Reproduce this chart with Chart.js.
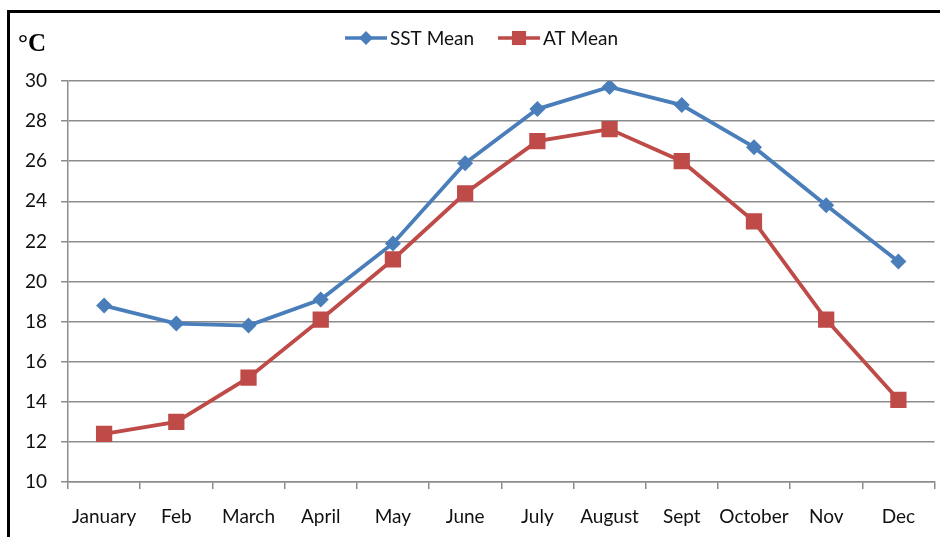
<!DOCTYPE html>
<html>
<head>
<meta charset="utf-8">
<script src="https://cdn.jsdelivr.net/npm/chart.js@4"></script>
<style>
  html, body { margin: 0; padding: 0; background: #fff; }
  #wrap { position: relative; width: 940px; height: 537px; overflow: hidden; }
  #frame { position: absolute; left: 7px; top: 10px; right: 0; bottom: 0;
           border-left: 3px solid #000; border-top: 3px solid #000; pointer-events: none; }
</style>
</head>
<body>
<div id="wrap">
  <!-- etwas breiter als das Fenster, damit der Plotbereich bis x=934 reicht -->
  <canvas id="chart" width="946" height="537"></canvas>
  <div id="frame"></div>
</div>
<script>
// Monatswerte
const months = ['January', 'Feb', 'March', 'April', 'May', 'June', 'July', 'August', 'Sept', 'October', 'Nov', 'Dec'];
const sstMean = [18.8, 17.9, 17.8, 19.1, 21.9, 25.9, 28.6, 29.7, 28.8, 26.7, 23.8, 21.0];
const atMean = [12.4, 13.0, 15.2, 18.1, 21.1, 24.4, 27.0, 27.6, 26.0, 23.0, 18.1, 14.1];
const yTicks = [10, 12, 14, 16, 18, 20, 22, 24, 26, 28, 30];

const BLUE = '#4a7ebb';
const RED = '#be4b48';
const GRID = '#8c8c8c';
const FONT = 'Lato, "Open Sans", sans-serif';

// eigene Legende und Einheit oben links
const extras = {
  id: 'extras',
  afterDraw(chart) {
    const ctx = chart.ctx;
    ctx.save();
    ctx.font = 'bold 25px "Liberation Serif", serif';
    ctx.fillStyle = '#000';
    ctx.textBaseline = 'middle';
    ctx.fillText('°C', 18, 45);

    const items = [
      { label: 'SST Mean', color: BLUE, style: 'rectRot', r: 7, x: 345 },
      { label: 'AT Mean', color: RED, style: 'rect', r: 10, x: 498 }
    ];
    ctx.font = '19px ' + FONT;
    items.forEach(it => {
      ctx.strokeStyle = it.color;
      ctx.lineWidth = 3.5;
      ctx.beginPath();
      ctx.moveTo(it.x, 38);
      ctx.lineTo(it.x + 42, 38);
      ctx.stroke();
      ctx.fillStyle = it.color;
      Chart.helpers.drawPoint(ctx, { pointStyle: it.style, radius: it.r, borderWidth: 0 }, it.x + 21, 38);
      ctx.fillStyle = '#111';
      ctx.fillText(it.label, it.x + 45, 39);
    });
    ctx.restore();
  }
};

new Chart(document.getElementById('chart'), {
  type: 'line',
  data: {
    labels: months,
    datasets: [
      {
        label: 'SST Mean',
        data: sstMean,
        borderColor: BLUE,
        backgroundColor: BLUE,
        borderWidth: 3.8,
        pointStyle: 'rectRot',
        pointRadius: 8,
        pointBorderWidth: 0,
        tension: 0
      },
      {
        label: 'AT Mean',
        data: atMean,
        borderColor: RED,
        backgroundColor: RED,
        borderWidth: 3.8,
        pointStyle: 'rect',
        pointRadius: 11.5,
        pointBorderWidth: 0,
        tension: 0
      }
    ]
  },
  options: {
    responsive: false,
    animation: false,
    layout: { padding: { top: 81, right: 0, left: 0, bottom: 0 } },
    plugins: {
      legend: { display: false },
      tooltip: { enabled: false }
    },
    scales: {
      x: {
        offset: true,
        grid: { offset: true, drawOnChartArea: false, color: GRID, lineWidth: 1.5, tickLength: 7 },
        border: { color: GRID, width: 1.5 },
        ticks: { color: '#111', font: { family: FONT, size: 19 }, padding: 16, maxRotation: 0, autoSkip: false },
        afterFit(scale) {
          scale.height = 55;
          scale.paddingLeft = 0;
          scale.paddingRight = 0;
        }
      },
      y: {
        min: 10,
        max: 30,
        afterBuildTicks(scale) { scale.ticks = yTicks.map(v => ({ value: v })); },
        grid: { color: GRID, lineWidth: 1.5, tickLength: 7 },
        border: { color: GRID, width: 1.5 },
        ticks: { color: '#111', font: { family: FONT, size: 19 }, padding: 14 },
        afterFit(scale) { scale.width = 68; }
      }
    }
  },
  plugins: [extras]
});
</script>
</body>
</html>
